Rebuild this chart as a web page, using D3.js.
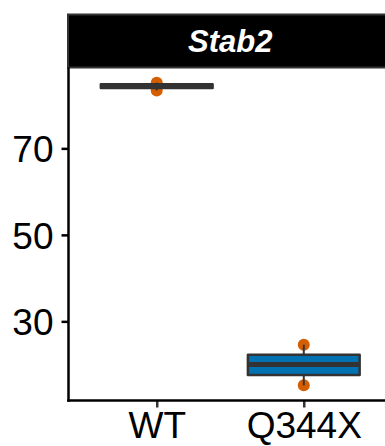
<!DOCTYPE html>
<html>
<head>
<meta charset="utf-8">
<script src="https://cdn.jsdelivr.net/npm/d3@7"></script>
<style>
  html, body { margin: 0; padding: 0; background: #fff; }
  svg { display: block; }
</style>
</head>
<body>
<svg id="chart" width="385" height="446"></svg>
<script>
// ---- data ----
const panelTitle = "Stab2";
const categories = ["WT", "Q344X"];
const wtValues = [85.2, 84.5, 83.4];
const q344xValues = [24.6, 20.0, 15.2];
const yTicks = [30, 50, 70];
const boxFills = ["#E69F00", "#0072B2"];
const pointColor = "#D55E00";

const groups = [
  { name: categories[0], values: wtValues, fill: boxFills[0] },
  { name: categories[1], values: q344xValues, fill: boxFills[1] }
];

// ---- layout ----
const W = 385, H = 446;
const panel = { left: 68.5, right: 392, top: 67.5, bottom: 400.5 };
const strip = { top: 14.5, bottom: 67.5 };
const fontFam = "'Liberation Sans', Arial, Helvetica, sans-serif";

const svg = d3.select("#chart");

const allVals = groups.flatMap(g => g.values);
const [mn, mx] = d3.extent(allVals);
const pad = (mx - mn) * 0.05;

const y = d3.scaleLinear().domain([mn - pad, mx + pad]).range([panel.bottom, panel.top]);
const x = d3.scalePoint().domain(categories).range([panel.left, panel.right]).padding(0.6);
const step = x.step();
const boxW = step * 0.76;

// strip
svg.append("rect")
  .attr("x", panel.left - 0.5).attr("y", strip.top)
  .attr("width", panel.right - panel.left + 10).attr("height", strip.bottom - strip.top)
  .attr("fill", "#000").attr("stroke", "#333333").attr("stroke-width", 2);
svg.append("text")
  .attr("x", (panel.left + panel.right) / 2).attr("y", (strip.top + strip.bottom) / 2)
  .attr("dy", "0.36em")
  .attr("text-anchor", "middle")
  .attr("font-family", fontFam).attr("font-weight", "bold").attr("font-style", "italic")
  .attr("font-size", 31).attr("fill", "#fff")
  .text(panelTitle);

// points (drawn behind boxes)
const gp = svg.append("g");
groups.forEach(g => {
  gp.selectAll(null).data(g.values).enter().append("circle")
    .attr("cx", x(g.name)).attr("cy", d => y(d)).attr("r", 6)
    .attr("fill", pointColor);
});

// boxes
const gb = svg.append("g");
groups.forEach(g => {
  const s = g.values.slice().sort(d3.ascending);
  const q1 = d3.quantile(s, 0.25), med = d3.quantile(s, 0.5), q3 = d3.quantile(s, 0.75);
  const iqr = q3 - q1;
  const lo = d3.min(s.filter(v => v >= q1 - 1.5 * iqr));
  const hi = d3.max(s.filter(v => v <= q3 + 1.5 * iqr));
  const cx = x(g.name);
  gb.append("line").attr("x1", cx).attr("x2", cx).attr("y1", y(hi)).attr("y2", y(q3))
    .attr("stroke", "#333333").attr("stroke-width", 2);
  gb.append("line").attr("x1", cx).attr("x2", cx).attr("y1", y(q1)).attr("y2", y(lo))
    .attr("stroke", "#333333").attr("stroke-width", 2);
  gb.append("rect")
    .attr("x", cx - boxW / 2).attr("y", y(q3))
    .attr("width", boxW).attr("height", Math.max(0, y(q1) - y(q3)))
    .attr("fill", g.fill).attr("stroke", "#333333").attr("stroke-width", 2.5)
    .attr("stroke-linejoin", "round");
  gb.append("line").attr("x1", cx - boxW / 2).attr("x2", cx + boxW / 2)
    .attr("y1", y(med)).attr("y2", y(med))
    .attr("stroke", "#333333").attr("stroke-width", 5).attr("stroke-linecap", "butt");
});

// axes
const yAxis = d3.axisLeft(y).tickValues(yTicks).tickSize(7).tickPadding(8);
const gy = svg.append("g").attr("transform", `translate(${panel.left},0)`).call(yAxis);
gy.select(".domain").remove();
gy.selectAll(".tick line").attr("stroke", "#000").attr("stroke-width", 2.5);
gy.selectAll(".tick text").attr("font-family", fontFam).attr("font-size", 37)
  .attr("fill", "#000").attr("dy", "0.36em");

const xAxis = d3.axisBottom(x).tickSize(7).tickPadding(4);
const gx = svg.append("g").attr("transform", `translate(0,${panel.bottom})`).call(xAxis);
gx.select(".domain").remove();
gx.selectAll(".tick line").attr("stroke", "#333333").attr("stroke-width", 2.5);
gx.selectAll(".tick text").attr("font-family", fontFam).attr("font-size", 37)
  .attr("fill", "#000").attr("dy", "0.71em");

// axis lines
svg.append("line").attr("x1", panel.left).attr("x2", panel.left)
  .attr("y1", panel.top).attr("y2", panel.bottom + 1.25)
  .attr("stroke", "#000").attr("stroke-width", 2.5);
svg.append("line").attr("x1", panel.left - 1.25).attr("x2", W + 10)
  .attr("y1", panel.bottom).attr("y2", panel.bottom)
  .attr("stroke", "#000").attr("stroke-width", 2.5);
</script>
</body>
</html>
